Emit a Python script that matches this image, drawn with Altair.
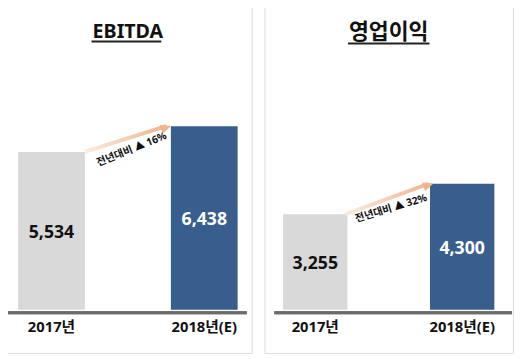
import altair as alt
import pandas as pd

# ---- data ----
years = ["2017년", "2018년(E)"]
ebitda = [5534, 6438]
ebitda_labels = ["5,534", "6,438"]
op_income = [3255, 4300]
op_labels = ["3,255", "4,300"]
growth_texts = ["전년대비 ▲ 16%", "전년대비 ▲ 32%"]
titles = ["EBITDA", "영업이익"]
bar_colors = ["#d9d9d9", "#385e8e"]
label_colors = ["#111111", "#ffffff"]

FONT = "Noto Sans, Noto Sans CJK KR, sans-serif"
ARROW_GRAD = alt.Gradient(
    gradient="linear",
    stops=[alt.GradientStop(color="#f8ece2", offset=0),
           alt.GradientStop(color="#efb58c", offset=1)],
    x1=0, x2=1, y1=0, y2=0,
)


def panel(title, tsize, vals, labels, growth, W, ymax, p_in, p_out, ul, base_x, arrow, gtext):
    df = pd.DataFrame({"cat": years, "val": vals, "label": labels,
                       "color": bar_colors, "tcolor": label_colors})
    yscale = alt.Scale(domain=[0, ymax], range=[309, 0], nice=False)
    x = alt.X("cat:N", sort=years, axis=None,
              scale=alt.Scale(domain=years, paddingInner=p_in, paddingOuter=p_out))
    base = alt.Chart(df)

    bars = base.mark_bar().encode(
        x=x, y=alt.Y("val:Q", scale=yscale, axis=None),
        color=alt.Color("color:N", scale=None))

    values = base.transform_calculate(mid="datum.val / 2").mark_text(
        font=FONT, fontSize=18, fontWeight="bold", dy=2, baseline="middle").encode(
        x=x, y=alt.Y("mid:Q", scale=yscale, axis=None), text="label:N",
        color=alt.Color("tcolor:N", scale=None))

    cats = base.mark_text(font=FONT, fontSize=15, fontWeight="bold", dy=18,
                          baseline="middle", color="#111111").encode(
        x=x, y=alt.Y(datum=0, scale=yscale, axis=None), text="cat:N")

    baseline = base.mark_rule(color="#6b6b6b", strokeWidth=3, yOffset=3).encode(
        x=alt.value(base_x[0]), x2=alt.value(base_x[1]),
        y=alt.Y(datum=0, scale=yscale, axis=None))

    tdf = pd.DataFrame({"t": [title], "g": [growth]})
    tbase = alt.Chart(tdf)
    ttl = tbase.mark_text(font=FONT, fontSize=tsize, fontWeight="bold",
                          baseline="middle", color="#111111").encode(
        x=alt.value(W / 2), y=alt.value(26), text="t:N")
    underline = tbase.mark_rule(color="#222222", strokeWidth=2).encode(
        x=alt.value(ul[0]), x2=alt.value(ul[1]), y=alt.value(ul[2]))

    ax0, ax1, ang = arrow
    shaft = tbase.mark_rule(stroke=ARROW_GRAD, strokeWidth=4).encode(
        x=alt.value(ax0), x2=alt.value(ax1 - 4),
        y=alt.Y(datum=vals[0], scale=yscale, axis=None),
        y2=alt.datum(vals[1]))
    head = tbase.mark_point(
        shape="M -1 -0.9 L 1 0 L -1 0.9 Z", filled=True, opacity=1,
        color="#efb48a", size=110, angle=ang, xOffset=-4, yOffset=1.5).encode(
        x=alt.value(ax1), y=alt.Y(datum=vals[1], scale=yscale, axis=None))

    gx, gy, gang = gtext
    gt = tbase.mark_text(font=FONT, fontSize=10.5, fontWeight="bold",
                         angle=gang, baseline="middle", color="#111111").encode(
        x=alt.value(gx), y=alt.value(gy), text="g:N")

    return alt.layer(bars, values, cats, baseline, shaft, head, gt, ttl, underline).properties(
        width=W, height=353)


left = panel(titles[0], 20, ebitda, ebitda_labels, growth_texts[0], 252, 10650,
             0.563, 0.0918, (89, 160, 36), (4, 247), (82, 169, 341), (130, 146, 338))
right = panel(titles[1], 22, op_income, op_labels, growth_texts[1], 253, 10362,
              0.562, 0.127, (85, 168, 38), (10, 252), (82, 171, 341), (129, 206, 343))

chart = alt.hconcat(left, right, spacing=11).properties(
    padding={"left": -5, "top": -6, "right": 0, "bottom": 0}
).configure_view(stroke="#d6d6d6", strokeWidth=1.5).configure(background="white")

chart.save("out.html", embed_options={"renderer": "svg", "actions": False})
